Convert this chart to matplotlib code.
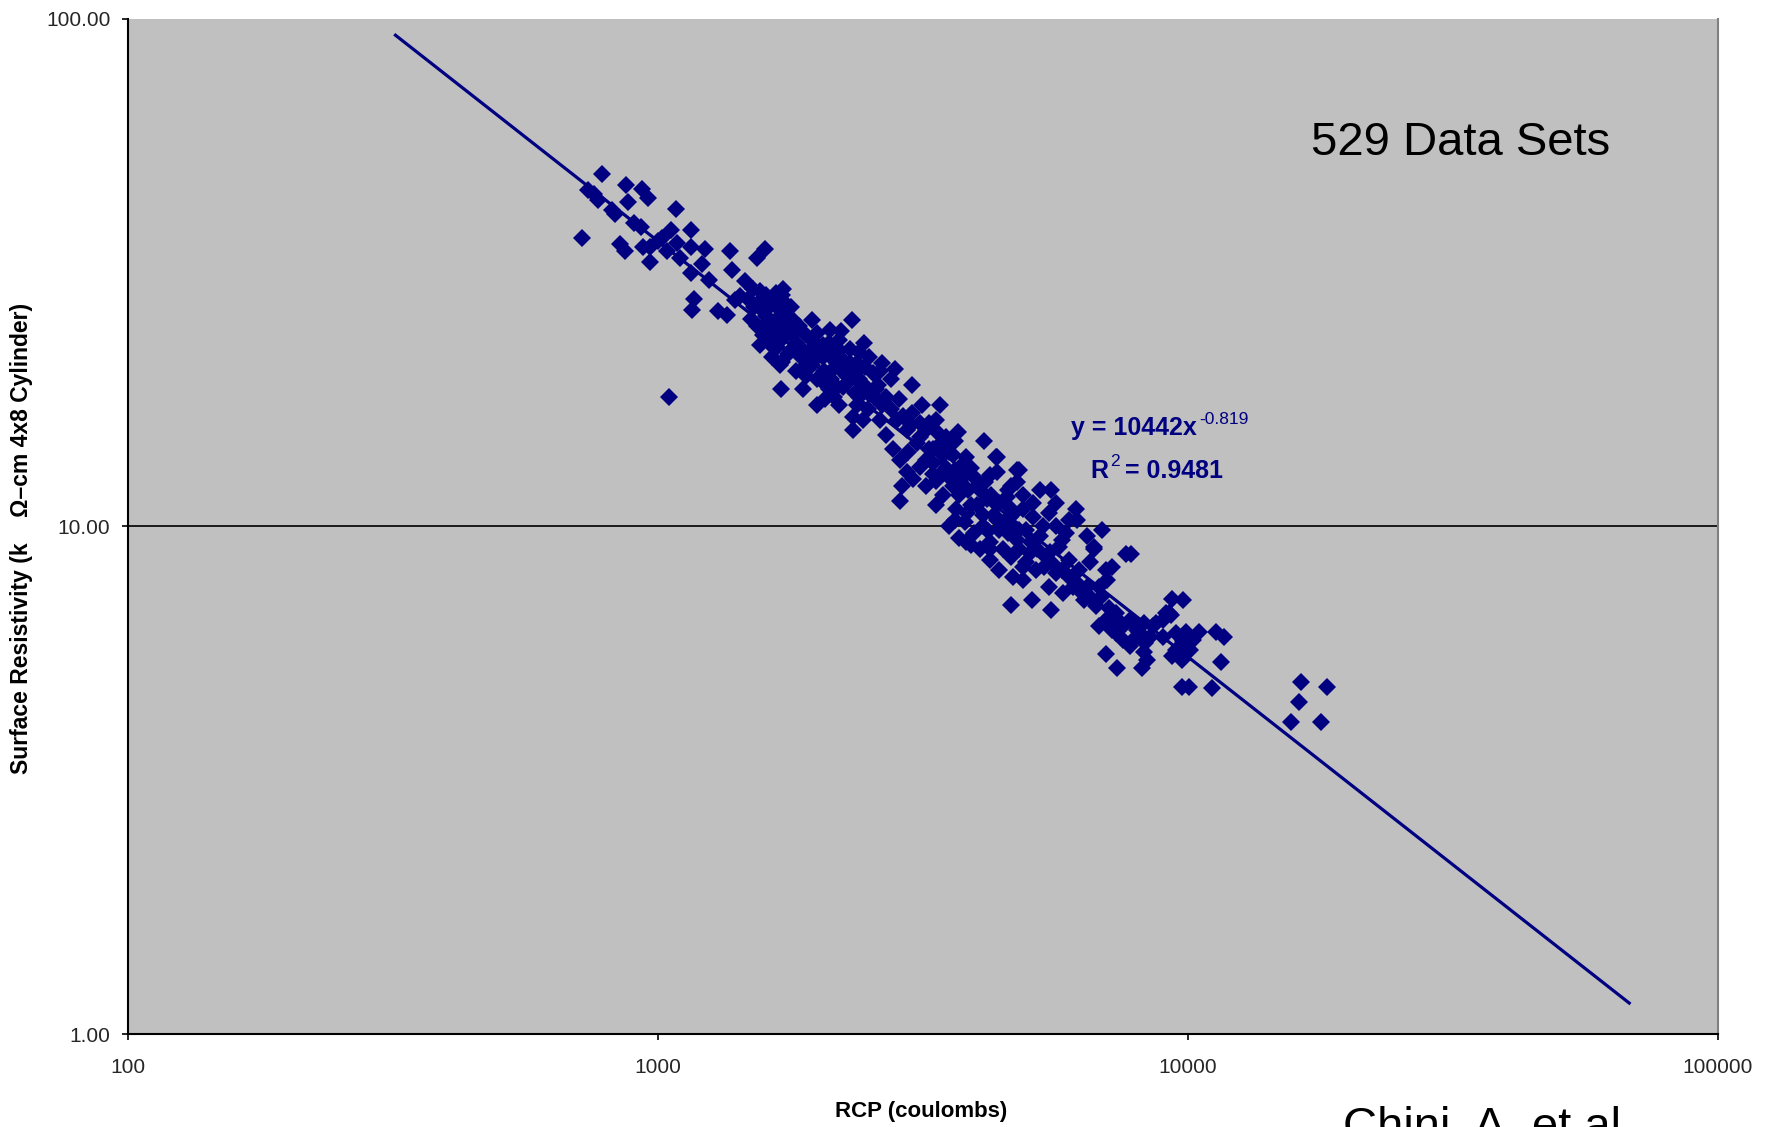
import matplotlib.pyplot as plt
from matplotlib.ticker import FixedLocator, FuncFormatter, NullLocator

plt.rcParams['font.family'] = ['Liberation Sans', 'DejaVu Sans']

# RCP charge passed (coulombs) and surface resistivity (kOhm-cm), one entry per test
rcp = [
    # sparse upper-left points
    785, 720, 740, 757, 770, 870, 933, 960, 878, 1080, 830, 818, 848, 866, 937, 965,
    968, 1060, 1155, 1085, 1040, 1155, 1225, 1370, 1590, 1540, 1380, 1210, 1155, 1170,
    1160, 1300, 1350, 930, 1050, 1460, 1510, 1427, 1000, 1100, 1250, 1400, 900, 1020,
    1705, 1715,
    # main cluster 1500-2500 C
    1480, 1520, 1560, 1580, 1600, 1620, 1650, 1500, 1540, 1600, 1660, 1700, 1720, 1680,
    1560, 1620, 1750, 1780, 1800, 1820, 1850, 1760, 1640, 1700, 1580, 1670, 1720, 1780,
    1860, 1900, 1950, 1980, 2000, 2050, 2100, 2150, 1900, 1950, 2000, 2080, 2200, 2250,
    2300, 2320, 2400, 2350, 2150, 2000, 1880, 1715, 1740, 1760, 1700,
    1620, 1690, 1740, 1800, 1840, 1880, 1920, 1960, 2020, 2060, 2120, 2180, 2240, 2280,
    2100, 1820, 1600, 1660, 1720, 1560, 2220, 2380,
    # 2000-4500 C
    1851, 1950, 2110, 2200, 2270, 2380, 2180, 2400, 2440, 2560, 2650, 2830, 2950, 3120,
    3250, 3020, 3350, 3400, 3630, 3200, 3300, 2110, 2200, 2300, 2150, 2250, 2400, 2450,
    2350, 2500, 2050, 2070, 2200, 2330, 2330, 2800, 3020, 3400, 3150, 3130, 3680, 4130,
    4340, 3820, 2860, 2620, 2650, 2460, 2580, 2750, 2490, 2380, 2620, 2700, 2780, 2860,
    2950, 3030, 2890, 3120, 3250, 3350, 3550, 3630, 3710, 3950, 4050, 4170, 4360, 4700,
    4640, 4750, 3830, 3630, 4100, 4410,
    2450, 2500, 2550, 2600, 2700, 2750, 2850, 2900, 3000, 3080, 2960, 3200, 3300, 3450,
    3500, 3550, 3750, 3850, 4000, 4150, 4250, 4300, 4500, 4550, 3900, 3350,
    # 3300-9000 C
    3500, 3600, 3700, 3800, 3900, 4000, 3650, 3800, 3950, 4100, 3450, 3550, 3700, 3900,
    4050, 3600, 3400, 3300, 3200, 3350, 3820, 4230, 4370, 4230, 4810, 4750, 5250, 5520,
    6180, 5970, 4410, 4610, 4880, 5100, 5480, 5650, 4960, 5250, 4750, 4470, 4230, 4640,
    5030, 5410, 5720, 5970, 6640, 6550, 6240, 5650, 5170, 4880, 4680, 7000, 7050, 6800,
    6450, 6060, 5810, 5480, 6370, 6700, 7000, 6800, 7320, 7540, 7760, 8020, 8250, 8500,
    7540, 7320, 7760, 8700, 8960, 9230, 7820, 7650, 4640, 5090, 5520, 7000, 7350, 8250,
    8380, 6660, 7200, 6150, 5880, 6450, 6900, 4370, 4570, 4880, 4370, 5100, 5320, 4810,
    4570, 5650, 4230, 4410, 4880,
    4700, 4800, 4950, 5050, 5200, 5350, 5500, 5600, 5800, 6000, 6200, 6300, 6600, 6900,
    7100, 7400, 7200, 7900, 8100, 8300, 4200, 4600, 5800,
    # high-charge tail
    9340, 9800, 9300, 9930, 10500, 11300, 11700, 9800, 10090, 9340, 9750, 11550, 9750,
    10030, 11080, 16350, 18280, 16220, 15660, 17800, 9090, 8590, 9500, 8960, 9500,
    10230, 8210,
]
resistivity = [
    49.5, 36.9, 45.9, 45.2, 44.0, 47.0, 46.1, 44.4, 43.6, 42.1, 41.2, 41.9, 35.9, 34.8,
    35.4, 35.4, 33.2, 38.4, 38.4, 36.2, 34.8, 35.5, 35.1, 34.8, 35.1, 33.8, 32.0, 32.8,
    31.6, 28.0, 26.7, 26.5, 26.1, 38.9, 18.0, 30.4, 29.3, 28.4, 36.5, 33.8, 30.6, 27.9,
    39.5, 37.0, 18.6, 21.1,
    28.0, 27.0, 29.0, 26.5, 28.5, 25.5, 27.5, 25.6, 24.8, 24.0, 25.0, 26.0, 23.5, 22.5,
    22.8, 23.0, 24.5, 27.0, 25.5, 23.0, 24.8, 21.8, 21.5, 20.8, 23.8, 28.8, 29.3, 22.2,
    21.5, 23.8, 25.5, 22.5, 24.0, 21.5, 23.0, 20.5, 19.8, 20.8, 19.5, 19.0, 22.2, 20.0,
    21.0, 25.5, 19.5, 18.3, 18.0, 17.3, 18.6, 28.6, 27.5, 26.0, 25.2,
    27.0, 26.8, 25.0, 23.8, 22.0, 20.5, 22.0, 21.2, 22.0, 20.2, 19.5, 21.0, 18.8, 19.2,
    18.6, 20.2, 26.0, 24.0, 27.6, 27.8, 24.2, 21.0,
    22.5, 23.3, 21.6, 21.0, 19.8, 19.5, 18.8, 18.0, 16.2, 18.0, 17.3, 16.2, 15.5, 15.0,
    16.0, 16.7, 16.2, 14.5, 14.7, 13.5, 12.7, 24.4, 23.3, 22.3, 22.0, 21.2, 22.0, 23.0,
    20.0, 21.5, 22.8, 17.8, 17.3, 15.5, 16.4, 20.4, 19.0, 17.3, 17.3, 16.0, 15.3, 14.7,
    13.7, 13.7, 11.2, 20.2, 21.0, 20.6, 18.6, 19.5, 17.0, 17.3, 16.2, 15.1, 14.2, 13.5,
    12.8, 12.4, 12.0, 13.1, 14.2, 15.4, 14.0, 12.9, 12.2, 12.5, 11.8, 11.3, 11.0, 10.6,
    12.0, 12.9, 10.6, 10.3, 10.0, 9.85,
    19.0, 18.2, 20.0, 19.0, 18.0, 17.0, 17.8, 16.5, 15.8, 14.6, 14.0, 15.5, 14.2, 13.8,
    15.0, 12.5, 13.2, 11.8, 11.0, 12.2, 11.5, 10.5, 10.2, 11.4, 13.0, 12.3,
    13.0, 12.0, 11.5, 12.6, 11.0, 12.0, 10.8, 10.2, 9.7, 10.5, 11.5, 10.0, 9.5, 9.2,
    9.0, 13.8, 12.6, 13.3, 12.0, 11.0, 9.3, 9.0, 13.7, 12.6, 12.9, 12.2, 11.8, 11.8,
    10.3, 10.3, 11.1, 10.45, 10.8, 10.45, 10.6, 10.0, 9.85, 9.55, 9.4, 9.0, 9.3, 8.7,
    8.85, 8.7, 9.1, 8.6, 9.0, 8.5, 8.2, 8.1, 8.2, 7.85, 7.95, 8.2, 7.85, 7.6,
    7.6, 7.6, 7.4, 7.6, 7.17, 6.95, 6.55, 6.35, 6.75, 6.35, 6.55, 6.26, 6.45, 6.05,
    5.98, 6.15, 5.8, 6.45, 6.55, 6.75, 8.8, 8.8, 7.0, 7.17, 6.85, 5.6, 5.27, 5.65,
    5.46, 9.1, 8.3, 10.8, 9.7, 9.55, 9.85, 12.8, 11.8, 11.5, 10.3, 11.1, 10.0, 9.85,
    9.7, 11.1, 8.6, 8.2, 8.3,
    9.9, 9.0, 8.5, 9.3, 9.0, 8.3, 8.9, 8.4, 8.2, 7.9, 7.7, 7.4, 7.2, 7.3,
    6.9, 6.5, 6.25, 6.0, 6.2, 5.9, 9.8, 10.9, 9.4,
    7.2, 7.17, 6.7, 6.2, 6.2, 6.2, 6.05, 5.93, 5.71, 5.54, 5.46, 5.41, 4.83,
    4.83, 4.81, 4.93, 4.83, 4.5, 4.11, 4.11, 6.75, 6.35, 5.71, 6.05, 6.17,
    5.98, 5.27,
]

# power-law trendline y = a * x^b
fit_a = 10442
fit_b = -0.819
fit_r2 = 0.9481
fit_x = [320, 68000]

NAVY = '#000080'
W, H = 1772, 1127

fig = plt.figure(figsize=(W / 100, H / 100), dpi=100)
ax = fig.add_axes([127.7 / W, 1 - 1034 / H, (1718 - 127.7) / W, (1034 - 18.5) / H])
ax.set_facecolor('#c0c0c0')
ax.set_xscale('log')
ax.set_yscale('log')
ax.set_xlim(100, 100000)
ax.set_ylim(1, 100)

ax.axhline(10, color='#1a1a1a', lw=1.4, zorder=1)
ax.plot(rcp, resistivity, linestyle='none', marker='D', ms=9, color=NAVY,
        mew=0, zorder=3)
ax.plot(fit_x, [fit_a * x ** fit_b for x in fit_x], color=NAVY, lw=2.3, zorder=4)

ax.xaxis.set_major_locator(FixedLocator([100, 1000, 10000, 100000]))
ax.yaxis.set_major_locator(FixedLocator([1, 10, 100]))
ax.xaxis.set_minor_locator(NullLocator())
ax.yaxis.set_minor_locator(NullLocator())
ax.xaxis.set_major_formatter(FuncFormatter(lambda v, p: f'{v:.0f}'))
ax.yaxis.set_major_formatter(FuncFormatter(lambda v, p: f'{v:.2f}'))
ax.tick_params(direction='out', length=4.5, width=1.2, labelsize=15,
               labelcolor='#262626')
ax.tick_params(axis='x', pad=13)
ax.tick_params(axis='y', pad=8)

for side in ['left', 'bottom']:
    ax.spines[side].set_color('black')
    ax.spines[side].set_linewidth(1.5)
ax.spines['top'].set_visible(False)
ax.spines['right'].set_color('#808080')
ax.spines['right'].set_linewidth(1.5)

fig.text(921 / W, 1 - 1111 / H, 'RCP (coulombs)', ha='center', va='center',
         fontsize=16, fontweight='bold')
fig.text(22 / W, 1 - 538 / H, 'Surface Resistivity (k    Ω–cm 4x8 Cylinder)',
         rotation=90, ha='center', va='center', fontsize=16.5, fontweight='bold')

# trendline equation
fig.text(1197 / W, 1 - 435 / H, 'y = 10442x', ha='right', va='baseline',
         fontsize=18, fontweight='bold', color=NAVY)
fig.text(1199 / W, 1 - 424 / H, f'{fit_b}', ha='left', va='baseline',
         fontsize=12.5, color=NAVY)
fig.text(1090 / W, 1 - 478 / H, 'R', ha='left', va='baseline',
         fontsize=18, fontweight='bold', color=NAVY)
fig.text(1110 / W, 1 - 466 / H, '2', ha='left', va='baseline',
         fontsize=12.5, color=NAVY)
fig.text(1223 / W, 1 - 478 / H, f'= {fit_r2}', ha='right', va='baseline',
         fontsize=18, fontweight='bold', color=NAVY)

fig.text(1311 / W, 1 - 155 / H, '529 Data Sets', ha='left', va='baseline',
         fontsize=34)
fig.text(1343 / W, 1 - 1139.5 / H, 'Chini, A. et al', ha='left', va='baseline',
         fontsize=34)

fig.savefig('out.png', dpi=100)
